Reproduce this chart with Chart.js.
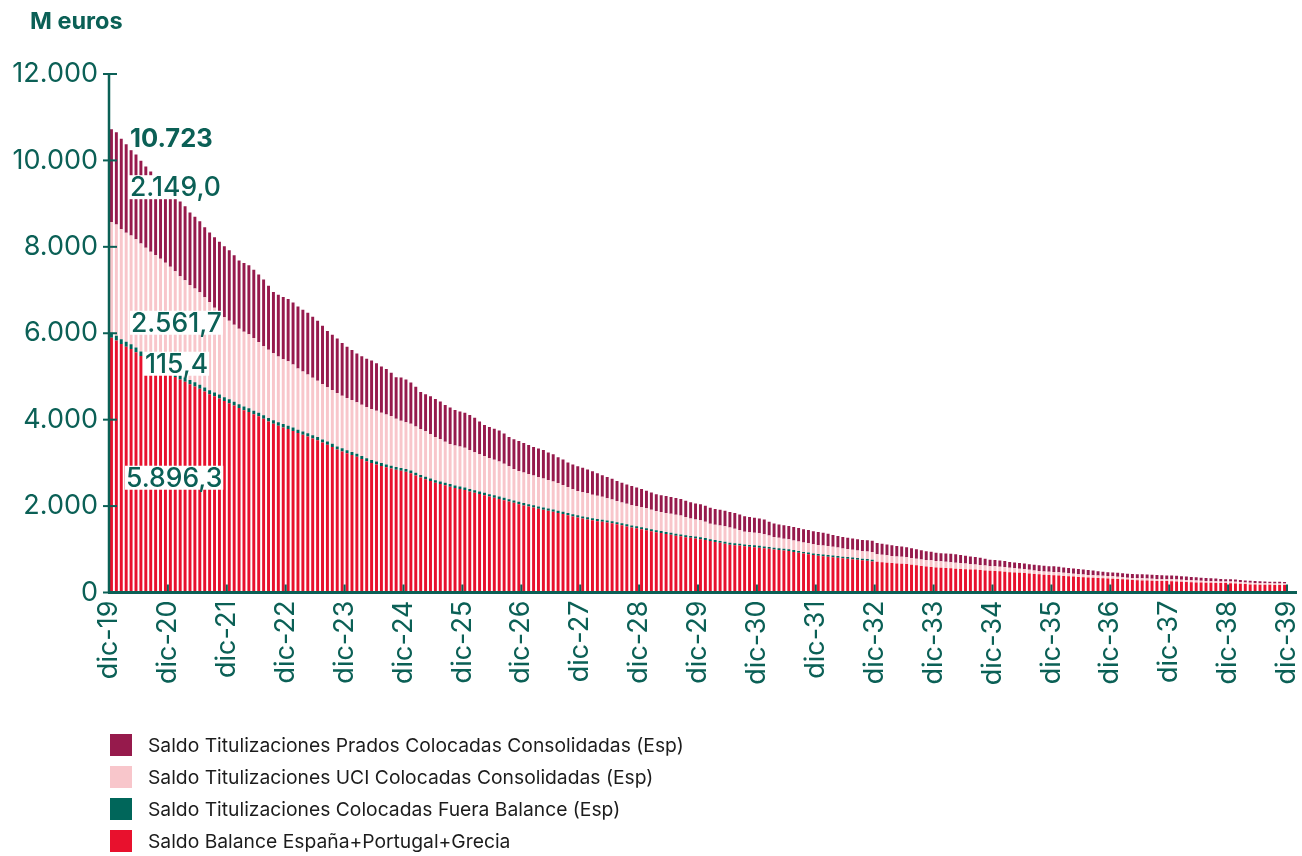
<!DOCTYPE html>
<html lang="es">
<head>
<meta charset="utf-8">
<title>Saldo vivo previsto</title>
<script src="https://cdn.jsdelivr.net/npm/chart.js@4.4.1/dist/chart.umd.min.js"></script>
<style>
  html, body { margin: 0; padding: 0; background: #ffffff; }
  #wrap { width: 1302px; height: 856px; position: relative; }
  canvas { display: block; }
</style>
</head>
<body>
<div id="wrap"><canvas id="chart" width="1302" height="856"></canvas></div>
<script>
// Monthly outstanding balances (M euros), one value per month from dic-19 onwards.

const xTickLabels = ['dic-19','dic-20','dic-21','dic-22','dic-23','dic-24','dic-25','dic-26','dic-27','dic-28',
  'dic-29','dic-30','dic-31','dic-32','dic-33','dic-34','dic-35','dic-36','dic-37','dic-38','dic-39'];

const yTickValues = [0, 2000, 4000, 6000, 8000, 10000, 12000];

const seriesNames = [
  'Saldo Balance España+Portugal+Grecia',
  'Saldo Titulizaciones Colocadas Fuera Balance (Esp)',
  'Saldo Titulizaciones UCI Colocadas Consolidadas (Esp)',
  'Saldo Titulizaciones Prados Colocadas Consolidadas (Esp)'
];

const balance = [
  5896.34, 5830, 5752, 5690, 5634, 5560, 5473, 5402, 5330, 5262, 5180, 5110,
  5040, 4985, 4930, 4880, 4820, 4770, 4716, 4650, 4590, 4540, 4490, 4430,
  4382, 4330, 4270, 4220, 4180, 4125, 4077, 4020, 3960, 3905, 3860, 3820,
  3782, 3740, 3690, 3650, 3610, 3565, 3526, 3470, 3420, 3370, 3310, 3265,
  3220, 3180, 3140, 3090, 3040, 3000, 2964, 2930, 2900, 2870, 2840, 2820,
  2797, 2760, 2710, 2660, 2620, 2580, 2540, 2510, 2480, 2450, 2420, 2395,
  2372, 2340, 2310, 2280, 2250, 2220, 2194, 2165, 2135, 2105, 2075, 2045,
  2016, 1990, 1965, 1940, 1915, 1890, 1868, 1840, 1815, 1790, 1760, 1735,
  1710, 1690, 1670, 1650, 1635, 1620, 1602, 1580, 1555, 1530, 1505, 1485,
  1463, 1440, 1420, 1395, 1375, 1355, 1334, 1315, 1300, 1280, 1265, 1250,
  1235, 1215, 1190, 1170, 1150, 1130, 1107, 1095, 1085, 1070, 1060, 1050,
  1038, 1025, 1010, 995, 985, 970, 959, 940, 920, 900, 885, 865,
  850, 840, 830, 815, 805, 790, 781, 770, 760, 745, 735, 720,
  710, 700, 690, 680, 672, 665, 660, 645, 630, 615, 600, 590,
  580, 575, 568, 560, 552, 546, 540, 535, 530, 522, 512, 505,
  500, 490, 480, 470, 462, 455, 450, 440, 430, 420, 412, 405,
  400, 392, 384, 376, 368, 360, 355, 348, 342, 336, 330, 325,
  320, 313, 305, 298, 292, 286, 280, 276, 272, 269, 266, 264,
  262, 256, 250, 244, 238, 234, 230, 228, 225, 222, 220, 218,
  215, 208, 200, 194, 188, 184, 180, 178, 177, 176, 175, 175
];

const fueraBalance = [
  115.44, 114, 112, 111, 109, 108, 107, 106, 104, 103, 102, 101,
  100, 99, 98, 97, 96, 95, 94, 93, 92, 91, 90, 89,
  88, 87, 86, 85, 84, 84, 83, 82, 81, 80, 80, 79,
  78, 77, 77, 76, 75, 75, 74, 73, 73, 72, 71, 71,
  70, 69, 69, 68, 67, 67, 66, 66, 65, 65, 64, 64,
  63, 63, 62, 62, 61, 61, 60, 60, 59, 59, 59, 58,
  58, 58, 57, 57, 57, 56, 56, 56, 55, 55, 55, 54,
  54, 54, 53, 53, 53, 52, 52, 52, 51, 51, 51, 50,
  50, 50, 49, 49, 49, 48, 48, 48, 48, 47, 47, 47,
  47, 47, 46, 46, 46, 46, 46, 45, 45, 45, 45, 45,
  45, 45, 44, 44, 44, 43, 43, 43, 43, 42, 42, 42,
  42, 42, 42, 41, 41, 41, 41, 41, 40, 40, 40, 40,
  40, 40, 39, 39, 39, 39, 39, 39, 38, 38, 38, 38,
  0, 0, 0, 0, 0, 0, 0, 0, 0, 0, 0, 0,
  0, 0, 0, 0, 0, 0, 0, 0, 0, 0, 0, 0,
  0, 0, 0, 0, 0, 0, 0, 0, 0, 0, 0, 0,
  0, 0, 0, 0, 0, 0, 0, 0, 0, 0, 0, 0,
  0, 0, 0, 0, 0, 0, 0, 0, 0, 0, 0, 0,
  0, 0, 0, 0, 0, 0, 0, 0, 0, 0, 0, 0,
  0, 0, 0, 0, 0, 0, 0, 0, 0, 0, 0, 0
];

const uci = [
  2561.74, 2570, 2545, 2525, 2520, 2510, 2500, 2470, 2450, 2445, 2440, 2420,
  2400, 2350, 2290, 2250, 2200, 2170, 2140, 2090, 2040, 1960, 1880, 1850,
  1820, 1780, 1750, 1730, 1710, 1680, 1640, 1600, 1580, 1550, 1520, 1500,
  1490, 1460, 1420, 1390, 1360, 1330, 1300, 1280, 1260, 1245, 1235, 1220,
  1210, 1205, 1195, 1190, 1185, 1180, 1175, 1165, 1155, 1150, 1120, 1090,
  1080, 1080, 1070, 1060, 1050, 1030, 1000, 980, 950, 930, 925, 925,
  920, 900, 880, 860, 850, 835, 820, 810, 790, 760, 730, 715,
  710, 700, 690, 680, 670, 660, 650, 640, 620, 600, 580, 565,
  560, 555, 545, 540, 530, 515, 500, 490, 480, 475, 470, 468,
  465, 460, 450, 445, 440, 440, 440, 440, 435, 420, 405, 392,
  390, 380, 360, 352, 355, 358, 355, 340, 320, 295, 290, 290,
  290, 280, 265, 250, 240, 235, 230, 225, 220, 215, 212, 210,
  210, 210, 210, 205, 195, 190, 185, 178, 172, 172, 176, 180,
  178, 175, 170, 166, 162, 160, 158, 154, 150, 150, 155, 158,
  150, 146, 142, 140, 138, 134, 130, 124, 120, 115, 110, 104,
  105, 108, 110, 105, 100, 95, 92, 86, 80, 78, 76, 75,
  76, 74, 72, 70, 68, 65, 62, 58, 56, 56, 58, 56,
  55, 52, 48, 45, 45, 48, 50, 50, 48, 45, 42, 40,
  45, 46, 46, 45, 44, 42, 42, 40, 38, 36, 34, 34,
  38, 40, 40, 40, 38, 37, 36, 35, 35, 35, 35, 35
];

const prados = [
  2149.04, 2140, 2090, 2050, 2000, 1960, 1910, 1880, 1860, 1820, 1790, 1760,
  1740, 1735, 1730, 1710, 1680, 1660, 1640, 1620, 1610, 1630, 1660, 1645,
  1630, 1610, 1580, 1590, 1600, 1580, 1560, 1540, 1480, 1420, 1430, 1440,
  1440, 1435, 1430, 1430, 1430, 1410, 1390, 1350, 1300, 1280, 1260, 1220,
  1190, 1160, 1130, 1120, 1120, 1120, 1100, 1070, 1050, 1000, 960, 1000,
  990, 960, 920, 860, 860, 870, 880, 870, 850, 840, 820, 810,
  810, 810, 800, 760, 720, 720, 720, 720, 700, 680, 685, 690,
  680, 670, 660, 660, 660, 640, 630, 600, 590, 570, 570, 570,
  565, 550, 540, 520, 500, 490, 480, 460, 455, 445, 440, 430,
  420, 410, 400, 390, 390, 390, 390, 388, 385, 380, 375, 370,
  370, 370, 370, 368, 365, 362, 360, 360, 360, 358, 355, 350,
  345, 340, 320, 310, 310, 310, 310, 310, 310, 310, 310, 305,
  300, 290, 280, 270, 268, 266, 265, 262, 260, 260, 260, 260,
  258, 255, 250, 245, 242, 238, 232, 225, 220, 210, 200, 195,
  192, 190, 192, 195, 195, 188, 180, 175, 170, 165, 158, 150,
  150, 145, 138, 132, 130, 130, 130, 130, 130, 130, 130, 130,
  130, 128, 125, 122, 120, 119, 118, 115, 110, 100, 92, 90,
  90, 90, 90, 90, 90, 90, 90, 90, 90, 90, 90, 90,
  88, 85, 82, 80, 78, 75, 72, 70, 68, 64, 60, 56,
  55, 52, 48, 46, 45, 44, 42, 40, 38, 37, 36, 35
];

// Palette
const TEAL = '#0b6056';
const COLORS = ['#e8112d', '#00665a', '#f8c6cb', '#961a4c'];
const FONT = "'Inter', 'Noto Sans', 'DejaVu Sans', sans-serif";

// Spanish number format: '.' thousands, ',' decimals
function fmtEs(v, dec) {
  const parts = Math.abs(v).toFixed(dec).split('.');
  const intPart = parts[0].replace(/\B(?=(\d{3})+(?!\d))/g, '.');
  return (v < 0 ? '-' : '') + intPart + (parts[1] ? ',' + parts[1] : '');
}

// Each month sits between two yearly ticks on a linear month axis
const toPoints = arr => arr.map((v, i) => ({ x: i + 0.5, y: v }));
const seriesValues = [balance, fueraBalance, uci, prados];

const datasets = seriesValues.map((arr, k) => ({
  label: seriesNames[k],
  data: toPoints(arr),
  backgroundColor: COLORS[k],
  borderWidth: 0,
  barPercentage: 0.6,
  categoryPercentage: 1.0
}));

function line(ctx, x1, y1, x2, y2) {
  ctx.beginPath();
  ctx.moveTo(x1, y1);
  ctx.lineTo(x2, y2);
  ctx.stroke();
}

function boxedLabel(ctx, text, left, cy, weight, size) {
  ctx.font = weight + ' ' + size + 'px ' + FONT;
  const w = ctx.measureText(text).width;
  ctx.fillStyle = '#ffffff';
  ctx.fillRect(left - 1, cy - 12, w + 2, 24);
  ctx.fillStyle = TEAL;
  ctx.textAlign = 'left';
  ctx.textBaseline = 'middle';
  ctx.fillText(text, left, cy + 1);
}

const decorPlugin = {
  id: 'decor',
  afterDatasetsDraw(chart) {
    const { ctx, chartArea } = chart;
    const xs = chart.scales.x, ys = chart.scales.y;
    const x0 = xs.getPixelForValue(0);
    const y0 = ys.getPixelForValue(0);
    ctx.save();
    ctx.strokeStyle = TEAL;
    ctx.lineCap = 'butt';

    // value axis line and crossing tick marks
    ctx.lineWidth = 2.5;
    line(ctx, x0, ys.getPixelForValue(ys.max), x0, y0);
    ctx.lineWidth = 2;
    ys.ticks.forEach(t => {
      const py = ys.getPixelForValue(t.value);
      line(ctx, x0 - 6, py, x0 + 8, py);
    });

    // month axis line with inward yearly ticks
    ctx.lineWidth = 3;
    line(ctx, x0 - 1, y0, chartArea.right + 10, y0);
    ctx.lineWidth = 2;
    xs.ticks.forEach(t => {
      const px = xs.getPixelForValue(t.value);
      line(ctx, px, y0, px, y0 - 8);
    });

    // first-month breakdown labels
    const c1 = balance[0];
    const c2 = c1 + fueraBalance[0];
    const c3 = c2 + uci[0];
    const c4 = c3 + prados[0];
    boxedLabel(ctx, fmtEs(Math.round(c4), 0), x0 + 21, ys.getPixelForValue(c4) + 9, 700, 25.5);
    boxedLabel(ctx, fmtEs(prados[0], 1), x0 + 21, ys.getPixelForValue(c4) + 58, 500, 26.5);
    boxedLabel(ctx, fmtEs(uci[0], 1), x0 + 22, ys.getPixelForValue(c2) - 10, 500, 26.5);
    boxedLabel(ctx, fmtEs(fueraBalance[0], 1), x0 + 36, ys.getPixelForValue(c1) + 26, 500, 26.5);
    boxedLabel(ctx, fmtEs(balance[0], 1), x0 + 17, ys.getPixelForValue(c1) + 140, 500, 26.5);
    ctx.restore();
  },
  afterDraw(chart) {
    const { ctx } = chart;
    ctx.save();
    // unit caption
    ctx.fillStyle = TEAL;
    ctx.font = '700 23.5px ' + FONT;
    ctx.textAlign = 'left';
    ctx.textBaseline = 'middle';
    ctx.fillText('M euros', 30, 22);

    // legend, top series first
    const order = [3, 2, 1, 0];
    ctx.font = '400 19.3px ' + FONT;
    order.forEach((k, row) => {
      const cy = 745 + row * 32;
      ctx.fillStyle = chart.data.datasets[k].backgroundColor;
      ctx.fillRect(110, cy - 11, 22, 22);
      ctx.fillStyle = '#1c1c1c';
      ctx.fillText(chart.data.datasets[k].label, 148, cy + 1);
    });
    ctx.restore();
  }
};

new Chart(document.getElementById('chart'), {
  type: 'bar',
  data: { datasets },
  plugins: [decorPlugin],
  options: {
    responsive: false,
    animation: false,
    devicePixelRatio: 1,
    layout: { padding: { top: 74, right: 15, bottom: 156, left: 0 } },
    plugins: { legend: { display: false }, tooltip: { enabled: false } },
    scales: {
      x: {
        type: 'linear',
        min: 0,
        max: (xTickLabels.length - 1) * 12,
        offset: false,
        stacked: true,
        grid: { display: false, drawTicks: false },
        border: { display: false },
        afterFit: s => { s.height = 107.5; s.paddingLeft = 0; s.paddingRight = 0; },
        ticks: {
          stepSize: 12,
          autoSkip: false,
          minRotation: 90,
          maxRotation: 90,
          padding: 8,
          color: TEAL,
          font: { family: FONT, size: 27 },
          callback: v => xTickLabels[v / 12] || ''
        }
      },
      y: {
        stacked: true,
        min: yTickValues[0],
        max: yTickValues[yTickValues.length - 1],
        grid: { display: false, drawTicks: false },
        border: { display: false },
        afterFit: s => { s.width = 109; },
        ticks: {
          stepSize: yTickValues[1] - yTickValues[0],
          padding: 11,
          color: TEAL,
          font: { family: FONT, size: 27 },
          callback: v => fmtEs(v, 0)
        }
      }
    }
  }
});
</script>
</body>
</html>
